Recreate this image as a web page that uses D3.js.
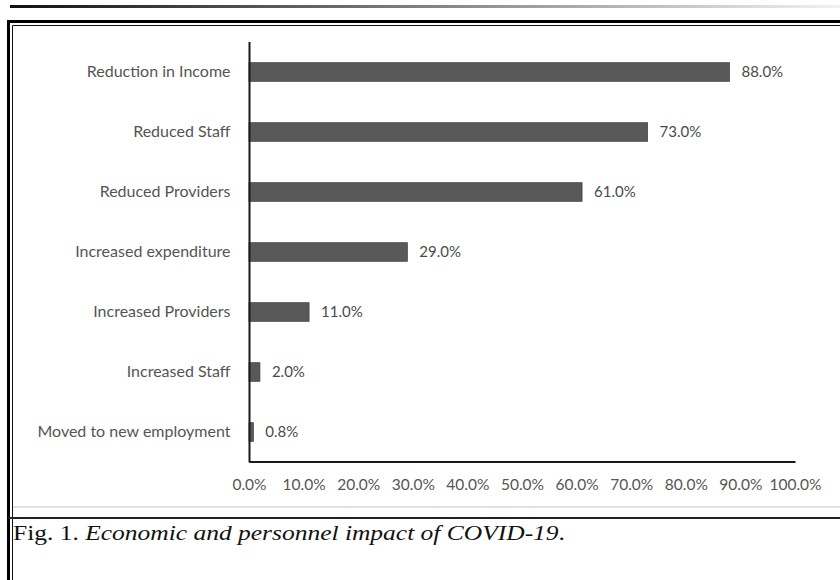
<!DOCTYPE html>
<html>
<head>
<meta charset="utf-8">
<script src="https://cdn.jsdelivr.net/npm/d3@7"></script>
<style>
body { margin: 0; background: #fff; }
svg { display: block; }
</style>
</head>
<body>
<svg class="main" width="840" height="580"></svg>
<script>
var categories = [
    "Reduction in Income",
    "Reduced Staff",
    "Reduced Providers",
    "Increased expenditure",
    "Increased Providers",
    "Increased Staff",
    "Moved to new employment"
];
var values = [88.0, 73.0, 61.0, 29.0, 11.0, 2.0, 0.8];
var xTicks = [0, 10, 20, 30, 40, 50, 60, 70, 80, 90, 100];
var caption = ["Fig. 1. ", "Economic and personnel impact of  COVID-19", "."];

var svg = d3.select(".main"),
    labelFont = "Lato, 'Open Sans', sans-serif",
    textGray = "#555";

var x = d3.scaleLinear().domain([0, 100]).range([249, 795]);
var y = d3.scaleBand().domain(categories).range([42, 462]).paddingInner(0.69).paddingOuter(0.345);

/**
 * Page furniture: fading rule on top, double frame, caption rules
 */
var grad = svg.append("defs").append("linearGradient")
    .attr("id", "fade")
    .attr("x1", "0%").attr("x2", "100%");
grad.append("stop").attr("offset", "0%").attr("stop-color", "#111");
grad.append("stop").attr("offset", "100%").attr("stop-color", "#f2f2f2");

svg.append("rect")
    .attr("x", 10).attr("y", 5)
    .attr("width", 830).attr("height", 3)
    .attr("fill", "url(#fade)");

// outer thick line and inner thin line of the frame
svg.append("path")
    .attr("d", "M8.5 600 L8.5 21.5 L845 21.5")
    .attr("fill", "none")
    .attr("stroke", "#000")
    .attr("stroke-width", 3);
svg.append("path")
    .attr("d", "M12.5 600 L12.5 25.5 L845 25.5")
    .attr("fill", "none")
    .attr("stroke", "#111")
    .attr("stroke-width", 1);

svg.append("line")
    .attr("x1", 13).attr("x2", 840)
    .attr("y1", 507).attr("y2", 507)
    .attr("stroke", "#e2e2e2")
    .attr("stroke-width", 2);
svg.append("line")
    .attr("x1", 8).attr("x2", 840)
    .attr("y1", 518).attr("y2", 518)
    .attr("stroke", "#222")
    .attr("stroke-width", 2);

/**
 * Bars
 */
var data = categories.map(function(c, i) {
    return { name: c, value: values[i] };
});

var chart = svg.append("g");

chart.selectAll(".bar")
    .data(data)
    .enter()
    .append("rect")
    .attr("class", "bar")
    .attr("x", x(0))
    .attr("y", function(d) { return y(d.name); })
    .attr("width", function(d) { return x(d.value) - x(0); })
    .attr("height", y.bandwidth())
    .attr("fill", "#595959")
    .attr("stroke", "#454545")
    .attr("stroke-width", 0.8);

chart.selectAll(".value")
    .data(data)
    .enter()
    .append("text")
    .attr("class", "value")
    .attr("x", function(d) { return x(d.value) + 12; })
    .attr("y", function(d) { return y(d.name) + y.bandwidth() / 2; })
    .attr("dy", "0.35em")
    .style("font-family", labelFont)
    .style("font-size", "15px")
    .style("fill", "#4a4a4a")
    .text(function(d) { return d3.format(".1f")(d.value) + "%"; });

/**
 * Axes
 */
var xAxis = chart.append("g")
    .attr("transform", "translate(0,461.5)")
    .call(d3.axisBottom(x)
        .tickValues(xTicks)
        .tickSize(0)
        .tickPadding(17)
        .tickFormat(function(d) { return d3.format(".1f")(d) + "%"; }));

xAxis.select(".domain").attr("stroke", "#1a1a1a").attr("stroke-width", 2);
xAxis.selectAll("text")
    .style("font-family", labelFont)
    .style("font-size", "15.5px")
    .style("fill", textGray);

var yAxis = chart.append("g")
    .attr("transform", "translate(249.5,0)")
    .call(d3.axisLeft(y).tickSize(0).tickPadding(19));

yAxis.select(".domain")
    .attr("d", "M0 " + 42 + " V" + 462.5)
    .attr("stroke", "#1a1a1a")
    .attr("stroke-width", 2);
yAxis.selectAll("text")
    .style("font-family", labelFont)
    .style("font-size", "16px")
    .style("fill", textGray);

/**
 * Caption
 */
var cap = svg.append("text")
    .attr("x", 13)
    .attr("y", 540)
    .style("font-family", "'Liberation Serif', 'DejaVu Serif', serif")
    .style("font-size", "20px")
    .style("fill", "#111")
    .attr("textLength", 552)
    .attr("lengthAdjust", "spacingAndGlyphs");

cap.append("tspan").text(caption[0]);
cap.append("tspan").style("font-style", "italic").text(caption[1]);
cap.append("tspan").text(caption[2]);
</script>
</body>
</html>
